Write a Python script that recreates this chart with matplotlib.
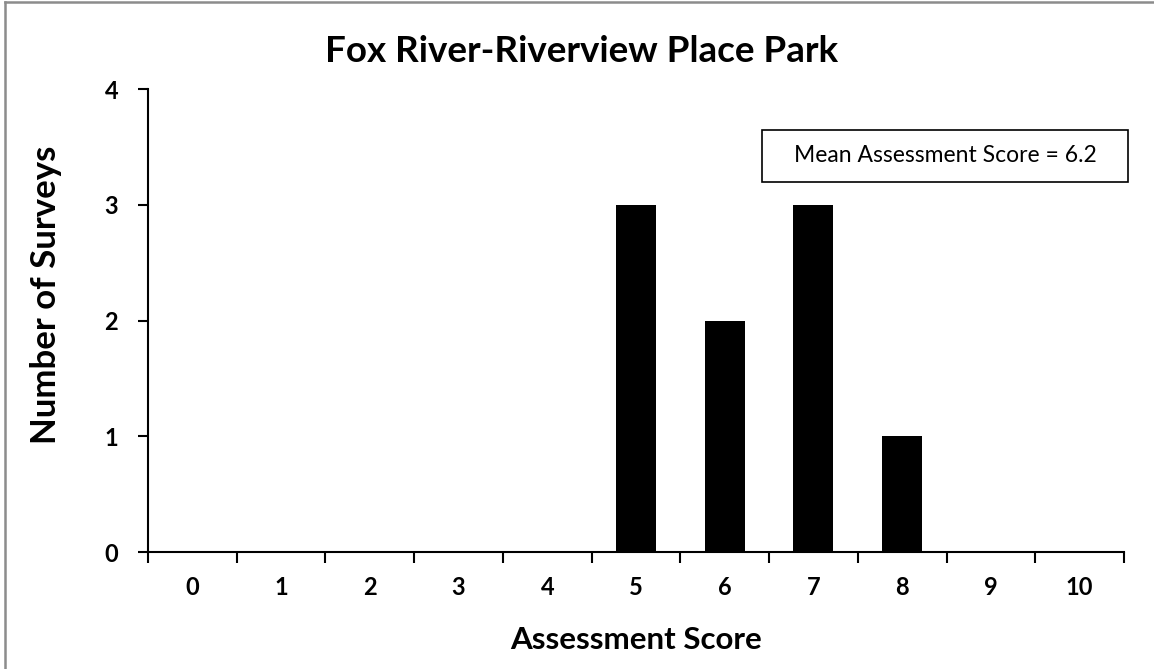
import matplotlib
matplotlib.use("Agg")
import matplotlib.pyplot as plt
from matplotlib.lines import Line2D
from matplotlib.patches import Rectangle

scores = [0, 1, 2, 3, 4, 5, 6, 7, 8, 9, 10]
survey_counts = [0, 0, 0, 0, 0, 3, 2, 3, 1, 0, 0]
y_ticks = [0, 1, 2, 3, 4]
mean_score = 6.2

plt.rcParams["font.family"] = ["Lato", "DejaVu Sans"]

W, H = 1154, 669
figure = plt.figure(figsize=(W / 100, H / 100), dpi=100)
axis = figure.add_axes([148 / W, 1 - 552 / H, (1124 - 148) / W, (552 - 89) / H])

axis.bar(scores, survey_counts, width=0.45, color="black", zorder=2)

axis.set_xlim(-0.5, 10.5)
axis.set_ylim(0, 4)
axis.set_yticks(y_ticks)
axis.set_xticks(scores)
axis.set_xticklabels([str(s) for s in scores], fontsize=17, fontweight="bold")
axis.set_yticklabels([str(v) for v in y_ticks], fontsize=17, fontweight="bold")
axis.set_xticks([s - 0.5 for s in scores] + [10.5], minor=True)
axis.tick_params(axis="x", which="major", length=0, pad=17)
axis.tick_params(axis="x", which="minor", length=8, width=1.5, direction="out")
axis.tick_params(axis="y", length=7.5, width=1.5, direction="out", pad=14)

for side in ("top", "right"):
    axis.spines[side].set_visible(False)
for side in ("left", "bottom"):
    axis.spines[side].set_linewidth(1.5)

axis.set_xlabel("Assessment Score", fontsize=22.5, fontweight="bold", va="center")
axis.xaxis.set_label_coords((636 - 148) / 976, (552 - 640) / 463)
axis.set_ylabel("Number of Surveys", fontsize=25, fontweight="bold", va="center")
axis.yaxis.set_label_coords((46 - 148) / 976, (552 - 295) / 463)

figure.text(582 / W, 1 - 52 / H, "Fox River-Riverview Place Park",
            ha="center", va="center", fontsize=26.5, fontweight="bold")

# mean score annotation box
box_left, box_right, box_top, box_bottom = 762, 1128, 130, 182
figure.patches.append(Rectangle((box_left / W, 1 - box_bottom / H),
                                (box_right - box_left) / W, (box_bottom - box_top) / H,
                                transform=figure.transFigure, facecolor="white",
                                edgecolor="black", linewidth=1.2, zorder=3))
figure.text((box_left + box_right) / 2 / W, 1 - (box_top + box_bottom) / 2 / H,
            f"Mean Assessment Score = {mean_score}",
            ha="center", va="center", fontsize=16.5, zorder=4)

# chart area border (only top and left edges are visible in the crop)
border_x, border_y = 4.5 / W, 1 - 1.5 / H
figure.lines.append(Line2D([border_x, border_x], [0, border_y], transform=figure.transFigure,
                           color="#8c8c8c", linewidth=1.8))
figure.lines.append(Line2D([border_x, 1], [border_y, border_y], transform=figure.transFigure,
                           color="#8c8c8c", linewidth=1.8))

figure.savefig("out.png", dpi=100)
